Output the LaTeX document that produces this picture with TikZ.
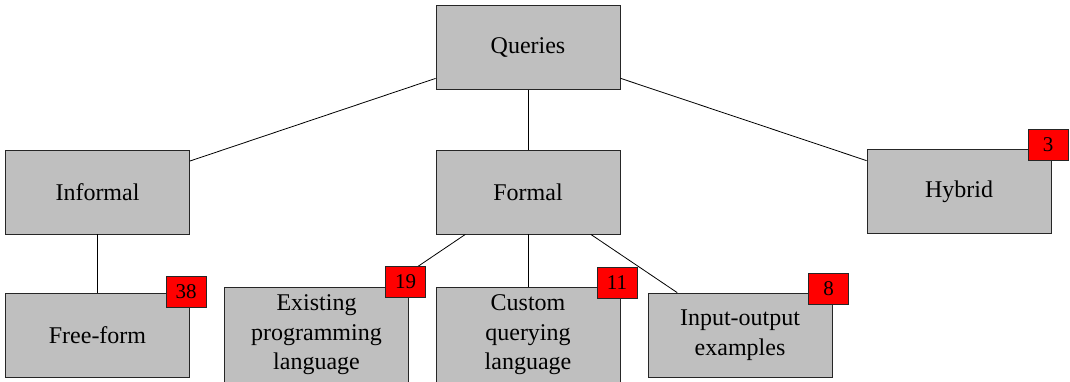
\documentclass[tikz,border=0pt]{standalone}
\usepackage{fontspec}
\setmainfont{Liberation Serif}
\begin{document}
\begin{tikzpicture}[x=1pt,y=-1pt,
  box/.style={draw=black!85, line width=0.8pt, fill=black!25, rectangle, inner sep=0pt,
    minimum width=184pt, minimum height=84pt, align=center,
    font=\fontsize{24}{29.5}\selectfont},
  tall/.style={box, minimum height=96pt},
  badge/.style={draw=black!85, line width=0.8pt, fill=red, rectangle, inner sep=0pt,
    minimum width=40pt, minimum height=31pt, font=\fontsize{21}{24}\selectfont},
  edge/.style={draw=black, line width=0.8pt}]
\useasboundingbox (0,0) rectangle (1070,381);
\begin{scope}
\clip (0,0) rectangle (1070,381);
\node[box] (q) at (528,47.5) {Queries};
\node[box] (inf) at (97.5,192) {Informal};
\node[box] (for) at (528,192) {Formal};
\node[box] (hyb) at (959,191.5) {Hybrid};
\node[box] (free) at (97.5,335) {Free-form};
\node[tall] (ex) at (316.5,335) {Existing\\programming\\language};
\node[tall] (cu) at (528,335) {Custom\\querying\\language};
\node[box] (io) at (740,335) {Input-output\\examples};
\begin{scope}[on background layer/.style={}]
\end{scope}
\draw[edge] (q) -- (inf);
\draw[edge] (q) -- (for);
\draw[edge] (q) -- (hyb);
\draw[edge] (inf) -- (free);
\draw[edge] (for) -- (ex);
\draw[edge] (for) -- (cu);
\draw[edge] (for) -- (io);
\node[badge] (b38) at (186,291.5) {38};
\node[badge] (b19) at (405.5,282) {19};
\node[badge] (b11) at (617,282.5) {11};
\node[badge] (b8) at (828.5,288.5) {8};
\node[badge] (b3) at (1048,145) {3};
\end{scope}
\end{tikzpicture}
\end{document}
